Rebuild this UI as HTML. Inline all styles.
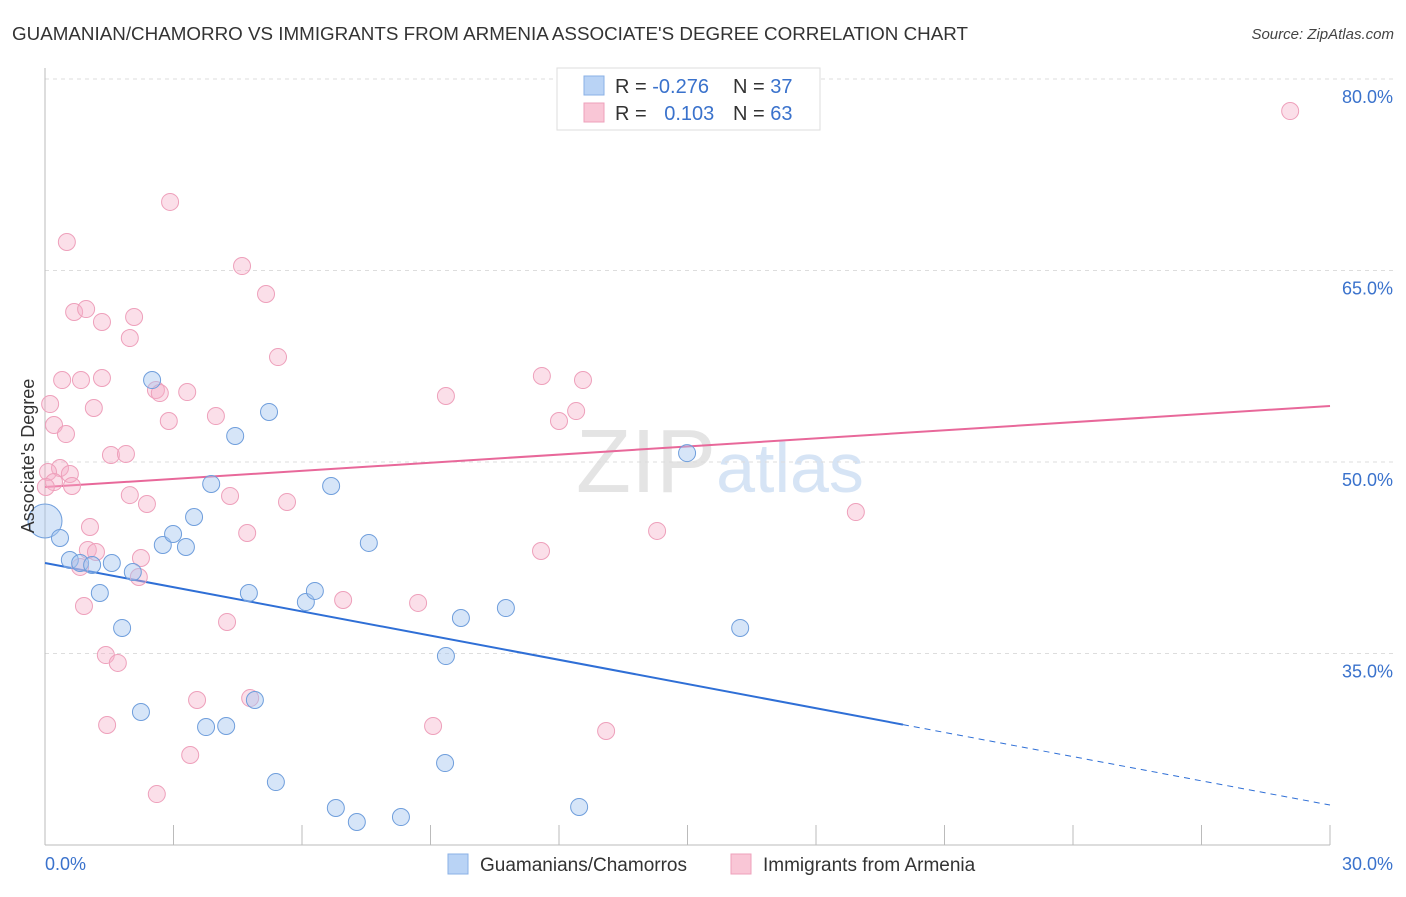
<!DOCTYPE html>
<html><head><meta charset="utf-8"><style>
body{margin:0;background:#fff;font-family:"Liberation Sans",sans-serif;}
svg text{font-family:"Liberation Sans",sans-serif;}
</style></head><body>
<svg id="chart" width="1406" height="892" xmlns="http://www.w3.org/2000/svg">
<text x="12" y="40" font-size="18" fill="#333" textLength="956" lengthAdjust="spacingAndGlyphs">GUAMANIAN/CHAMORRO VS IMMIGRANTS FROM ARMENIA ASSOCIATE'S DEGREE CORRELATION CHART</text>
<text x="1394" y="39" font-size="15" fill="#444" text-anchor="end" font-style="italic">Source: ZipAtlas.com</text>
<text x="720" y="492" font-size="90" text-anchor="middle" fill="#e4e4e4" font-family="Liberation Serif">ZIP<tspan fill="#d6e4f5" font-family="Liberation Sans" font-size="70">atlas</tspan></text>
<g id="grid"></g>
<g id="axes"></g>
<g id="trends"></g>
<g id="points"></g>
<text transform="translate(34,456) rotate(-90)" font-size="18" fill="#333" text-anchor="middle">Associate's Degree</text>
<g>
<rect x="557" y="68" width="263" height="62" fill="#fff" stroke="#ddd"/>
<rect x="584" y="76" width="20" height="19" fill="#b9d3f5" stroke="#8ab0e6"/>
<rect x="584" y="103" width="20" height="19" fill="#f9c6d6" stroke="#eea0bb"/>
<text x="615" y="93" font-size="20" fill="#333">R = <tspan fill="#3a72cc">-0.276</tspan></text>
<text x="733" y="93" font-size="20" fill="#333">N = <tspan fill="#3a72cc">37</tspan></text>
<text x="615" y="120" font-size="20" fill="#333">R = <tspan fill="#3a72cc" dx="12">0.103</tspan></text>
<text x="733" y="120" font-size="20" fill="#333">N = <tspan fill="#3a72cc">63</tspan></text>
</g>
<g>
<rect x="448" y="854" width="20" height="20" fill="#b9d3f5" stroke="#8ab0e6"/>
<text x="480" y="871" font-size="19" fill="#333">Guamanians/Chamorros</text>
<rect x="731" y="854" width="20" height="20" fill="#f9c6d6" stroke="#eea0bb"/>
<text x="763" y="871" font-size="19" fill="#333">Immigrants from Armenia</text>
</g>
</svg>
<script>
const yTicks=[80,65,50,35];
const yTickLabels=["80.0%","65.0%","50.0%","35.0%"];
const xTickLabels=["0.0%","30.0%"];
const blueX=[0,0.35,0.58,0.82,1.10,1.56,1.28,1.80,2.05,2.50,2.24,2.75,2.99,3.29,3.48,3.88,3.76,4.23,4.44,4.76,4.90,5.23,5.39,6.09,6.30,6.68,6.79,7.28,7.56,8.31,9.36,9.34,9.71,10.76,12.47,14.99,16.23];
const blueY=[45.38,44.05,42.32,42.09,41.93,42.09,39.74,37.00,41.38,56.42,30.42,43.50,44.36,43.34,45.69,48.28,29.24,29.32,52.04,39.74,31.36,53.92,24.93,39.03,39.90,48.12,22.90,21.80,43.66,22.19,34.80,26.42,37.78,38.56,22.98,50.70,37.00];
const pinkX=[29.07,2.92,0.51,4.60,5.16,0.68,0.96,1.33,2.08,1.98,5.44,0.40,0.84,1.33,0.12,1.14,2.59,2.68,3.32,2.89,3.99,11.60,12.56,9.36,12.40,12.00,0.21,0.49,1.54,1.89,0.35,0.07,0.58,0.21,0.63,0.02,1.98,2.38,4.32,5.65,1.05,4.72,1.00,1.19,2.24,0.82,2.19,0.91,6.96,8.71,11.58,14.29,18.93,4.25,1.42,1.70,3.55,4.79,1.45,9.06,13.10,3.39,2.61];
const pinkY=[77.49,70.37,67.23,65.35,63.16,61.75,61.98,60.97,61.36,59.71,58.22,56.42,56.42,56.58,54.54,54.23,55.64,55.40,55.48,53.21,53.60,56.74,56.42,55.17,53.99,53.21,52.90,52.19,50.55,50.63,49.53,49.22,49.06,48.43,48.12,48.04,47.41,46.71,47.34,46.87,44.91,44.44,43.11,42.95,42.48,41.78,40.99,38.72,39.19,38.96,43.03,44.60,46.08,37.47,34.88,34.26,31.36,31.51,29.40,29.32,28.93,27.05,23.99];
const blueTrend=[42.09,23.13]; const blueSolidEnd=20.03;
const pinkTrend=[48.04,54.39];
const NS='http://www.w3.org/2000/svg';
const X=v=>45+v/30*1285, Y=v=>79+(80-v)/15*191.5;
function mk(tag,attrs,parent){const e=document.createElementNS(NS,tag);for(const k in attrs)e.setAttribute(k,attrs[k]);parent.appendChild(e);return e;}
const grid=document.getElementById('grid'),axes=document.getElementById('axes'),tr=document.getElementById('trends'),pts=document.getElementById('points');
yTicks.forEach((t,i)=>{
 const l=mk('line',{x1:45,x2:1395,y1:Y(t),y2:Y(t),stroke:'#ddd','stroke-dasharray':'4,4'},grid);
 
 
 const tx=mk('text',{x:1393,y:Y(t)+24,'font-size':18,fill:'#3a72cc','text-anchor':'end'},grid);
 tx.textContent=yTickLabels[i];
 
 
});
const ya=mk('line',{x1:45,x2:45,y1:68,y2:845,stroke:'#bbb'},axes);


const xa=mk('line',{x1:45,x2:1330,y1:845,y2:845,stroke:'#bbb'},axes);


for(let i=0;i<=10;i++){const t=mk('line',{x1:X(i*3),x2:X(i*3),y1:825,y2:845,stroke:'#bbb'},axes);
 
 }
[[0,'start',45],[30,'end',1393]].forEach((d,i)=>{const t=mk('text',{x:d[2],y:870,'font-size':18,fill:'#3a72cc','text-anchor':d[1]},axes);t.textContent=xTickLabels[i];
 
 });
const bY=x=>blueTrend[0]+(blueTrend[1]-blueTrend[0])*x/30;
let l1=mk('line',{x1:X(0),y1:Y(bY(0)),x2:X(blueSolidEnd),y2:Y(bY(blueSolidEnd)),stroke:'#2f6fd6','stroke-width':2},tr);


let l2=mk('line',{x1:X(blueSolidEnd),y1:Y(bY(blueSolidEnd)),x2:X(30),y2:Y(bY(30)),stroke:'#2f6fd6','stroke-width':1,'stroke-dasharray':'6,5'},tr);


let l3=mk('line',{x1:X(0),y1:Y(pinkTrend[0]),x2:X(30),y2:Y(pinkTrend[1]),stroke:'#e8689a','stroke-width':2},tr);


pinkX.forEach((x,i)=>{const c=mk('circle',{cx:X(x),cy:Y(pinkY[i]),r:8.5,fill:'rgba(246,176,200,0.4)',stroke:'#eea0bb','stroke-width':1},pts);
 
 });
blueX.forEach((x,i)=>{const c=mk('circle',{cx:X(x),cy:Y(blueY[i]),r:i===0?17:8.5,fill:'rgba(165,198,240,0.45)',stroke:'#6f9edc','stroke-width':1},pts);
 
 });
</script>
</body></html>
